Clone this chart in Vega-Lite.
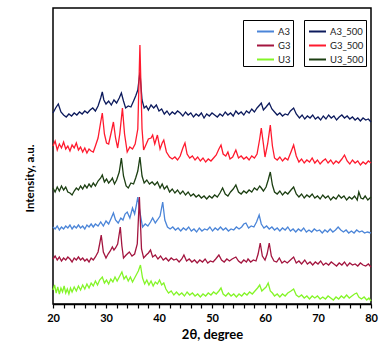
{
"$schema": "https://vega.github.io/schema/vega-lite/v6.json",
"width": 318, "height": 296,
"autosize": {"type": "none"},
"padding": {"left": 53, "top": 8, "right": 16, "bottom": 46},
"background": "white",
"config": {"view": {"stroke": "black", "strokeWidth": 1.5}, "font": "Lato"},
"data": {"values": [
{"s":"A3_500","x":20,"y":191},{"s":"A3_500","x":20.5,"y":196},{"s":"A3_500","x":21,"y":200},{"s":"A3_500","x":21.5,"y":192},{"s":"A3_500","x":22,"y":189},{"s":"A3_500","x":22.5,"y":187},{"s":"A3_500","x":23,"y":190},{"s":"A3_500","x":23.5,"y":188},{"s":"A3_500","x":24,"y":191},{"s":"A3_500","x":24.5,"y":189},{"s":"A3_500","x":25,"y":192},{"s":"A3_500","x":25.5,"y":190},{"s":"A3_500","x":26,"y":193},{"s":"A3_500","x":26.5,"y":191},{"s":"A3_500","x":27,"y":194},{"s":"A3_500","x":27.5,"y":196},{"s":"A3_500","x":28,"y":193},{"s":"A3_500","x":28.5,"y":198},{"s":"A3_500","x":29,"y":206},{"s":"A3_500","x":29.3,"y":212},{"s":"A3_500","x":29.6,"y":204},{"s":"A3_500","x":30,"y":200},{"s":"A3_500","x":30.5,"y":203},{"s":"A3_500","x":31,"y":199},{"s":"A3_500","x":31.5,"y":204},{"s":"A3_500","x":32,"y":201},{"s":"A3_500","x":32.5,"y":206},{"s":"A3_500","x":32.9,"y":211},{"s":"A3_500","x":33.3,"y":203},{"s":"A3_500","x":33.7,"y":196},{"s":"A3_500","x":34.2,"y":198},{"s":"A3_500","x":34.7,"y":197},{"s":"A3_500","x":35.2,"y":203},{"s":"A3_500","x":35.6,"y":208},{"s":"A3_500","x":36,"y":214},{"s":"A3_500","x":36.4,"y":232},{"s":"A3_500","x":36.8,"y":204},{"s":"A3_500","x":37.2,"y":196},{"s":"A3_500","x":37.6,"y":198},{"s":"A3_500","x":38,"y":194},{"s":"A3_500","x":38.5,"y":199},{"s":"A3_500","x":39,"y":196},{"s":"A3_500","x":39.5,"y":199},{"s":"A3_500","x":40,"y":193},{"s":"A3_500","x":40.5,"y":195},{"s":"A3_500","x":41,"y":190},{"s":"A3_500","x":41.5,"y":193},{"s":"A3_500","x":42,"y":189},{"s":"A3_500","x":42.5,"y":192},{"s":"A3_500","x":43,"y":190},{"s":"A3_500","x":43.5,"y":193},{"s":"A3_500","x":44,"y":191},{"s":"A3_500","x":44.5,"y":188},{"s":"A3_500","x":45,"y":192},{"s":"A3_500","x":45.5,"y":189},{"s":"A3_500","x":46,"y":191},{"s":"A3_500","x":46.5,"y":187},{"s":"A3_500","x":47,"y":190},{"s":"A3_500","x":47.5,"y":188},{"s":"A3_500","x":48,"y":191},{"s":"A3_500","x":48.5,"y":186},{"s":"A3_500","x":49,"y":190},{"s":"A3_500","x":49.5,"y":188},{"s":"A3_500","x":50,"y":191},{"s":"A3_500","x":50.5,"y":189},{"s":"A3_500","x":51,"y":187},{"s":"A3_500","x":51.5,"y":190},{"s":"A3_500","x":52,"y":188},{"s":"A3_500","x":52.5,"y":192},{"s":"A3_500","x":53,"y":189},{"s":"A3_500","x":53.5,"y":191},{"s":"A3_500","x":54,"y":188},{"s":"A3_500","x":54.5,"y":193},{"s":"A3_500","x":55,"y":190},{"s":"A3_500","x":55.5,"y":192},{"s":"A3_500","x":56,"y":189},{"s":"A3_500","x":56.5,"y":193},{"s":"A3_500","x":57,"y":191},{"s":"A3_500","x":57.5,"y":195},{"s":"A3_500","x":58,"y":192},{"s":"A3_500","x":58.5,"y":196},{"s":"A3_500","x":59,"y":199},{"s":"A3_500","x":59.3,"y":201},{"s":"A3_500","x":59.7,"y":194},{"s":"A3_500","x":60.2,"y":197},{"s":"A3_500","x":60.8,"y":201},{"s":"A3_500","x":61.3,"y":195},{"s":"A3_500","x":61.8,"y":192},{"s":"A3_500","x":62.3,"y":189},{"s":"A3_500","x":62.8,"y":191},{"s":"A3_500","x":63.3,"y":188},{"s":"A3_500","x":63.8,"y":190},{"s":"A3_500","x":64.3,"y":189},{"s":"A3_500","x":64.8,"y":193},{"s":"A3_500","x":65.4,"y":196},{"s":"A3_500","x":65.9,"y":190},{"s":"A3_500","x":66.5,"y":186},{"s":"A3_500","x":67,"y":189},{"s":"A3_500","x":67.5,"y":185},{"s":"A3_500","x":68,"y":188},{"s":"A3_500","x":68.5,"y":186},{"s":"A3_500","x":69,"y":189},{"s":"A3_500","x":69.5,"y":185},{"s":"A3_500","x":70,"y":187},{"s":"A3_500","x":70.5,"y":184},{"s":"A3_500","x":71,"y":188},{"s":"A3_500","x":71.5,"y":185},{"s":"A3_500","x":72,"y":189},{"s":"A3_500","x":72.5,"y":186},{"s":"A3_500","x":73,"y":188},{"s":"A3_500","x":73.5,"y":184},{"s":"A3_500","x":74,"y":187},{"s":"A3_500","x":74.5,"y":189},{"s":"A3_500","x":75,"y":186},{"s":"A3_500","x":75.5,"y":188},{"s":"A3_500","x":76,"y":185},{"s":"A3_500","x":76.5,"y":187},{"s":"A3_500","x":77,"y":184},{"s":"A3_500","x":77.5,"y":186},{"s":"A3_500","x":78,"y":183},{"s":"A3_500","x":78.5,"y":186},{"s":"A3_500","x":79,"y":184},{"s":"A3_500","x":79.5,"y":185},{"s":"A3_500","x":80,"y":182},
{"s":"G3_500","x":20,"y":158},{"s":"G3_500","x":20.4,"y":163},{"s":"G3_500","x":20.8,"y":154},{"s":"G3_500","x":21.2,"y":160},{"s":"G3_500","x":21.6,"y":156},{"s":"G3_500","x":22,"y":162},{"s":"G3_500","x":22.4,"y":155},{"s":"G3_500","x":22.8,"y":158},{"s":"G3_500","x":23.2,"y":153},{"s":"G3_500","x":23.6,"y":159},{"s":"G3_500","x":24,"y":156},{"s":"G3_500","x":24.4,"y":161},{"s":"G3_500","x":24.8,"y":154},{"s":"G3_500","x":25.2,"y":157},{"s":"G3_500","x":25.6,"y":152},{"s":"G3_500","x":26,"y":156},{"s":"G3_500","x":26.4,"y":151},{"s":"G3_500","x":26.8,"y":155},{"s":"G3_500","x":27.2,"y":153},{"s":"G3_500","x":27.6,"y":152},{"s":"G3_500","x":28,"y":158},{"s":"G3_500","x":28.5,"y":166},{"s":"G3_500","x":29,"y":182},{"s":"G3_500","x":29.3,"y":191},{"s":"G3_500","x":29.7,"y":170},{"s":"G3_500","x":30.1,"y":161},{"s":"G3_500","x":30.5,"y":160},{"s":"G3_500","x":31,"y":172},{"s":"G3_500","x":31.4,"y":182},{"s":"G3_500","x":31.8,"y":166},{"s":"G3_500","x":32.2,"y":156},{"s":"G3_500","x":32.6,"y":170},{"s":"G3_500","x":33.1,"y":196},{"s":"G3_500","x":33.5,"y":170},{"s":"G3_500","x":34,"y":152},{"s":"G3_500","x":34.5,"y":157},{"s":"G3_500","x":35,"y":155},{"s":"G3_500","x":35.5,"y":160},{"s":"G3_500","x":36,"y":175},{"s":"G3_500","x":36.4,"y":259},{"s":"G3_500","x":36.8,"y":175},{"s":"G3_500","x":37.1,"y":154},{"s":"G3_500","x":37.6,"y":160},{"s":"G3_500","x":38,"y":165},{"s":"G3_500","x":38.5,"y":166},{"s":"G3_500","x":38.8,"y":169},{"s":"G3_500","x":39.2,"y":160},{"s":"G3_500","x":39.7,"y":169},{"s":"G3_500","x":40.2,"y":155},{"s":"G3_500","x":40.6,"y":161},{"s":"G3_500","x":40.9,"y":164},{"s":"G3_500","x":41.4,"y":152},{"s":"G3_500","x":42,"y":147},{"s":"G3_500","x":42.5,"y":145},{"s":"G3_500","x":43,"y":147},{"s":"G3_500","x":43.5,"y":144},{"s":"G3_500","x":44,"y":148},{"s":"G3_500","x":44.5,"y":156},{"s":"G3_500","x":44.9,"y":161},{"s":"G3_500","x":45.3,"y":150},{"s":"G3_500","x":45.8,"y":146},{"s":"G3_500","x":46.3,"y":148},{"s":"G3_500","x":46.8,"y":144},{"s":"G3_500","x":47.3,"y":147},{"s":"G3_500","x":47.8,"y":143},{"s":"G3_500","x":48.3,"y":146},{"s":"G3_500","x":48.8,"y":142},{"s":"G3_500","x":49.3,"y":145},{"s":"G3_500","x":49.8,"y":143},{"s":"G3_500","x":50.3,"y":146},{"s":"G3_500","x":50.8,"y":149},{"s":"G3_500","x":51.3,"y":155},{"s":"G3_500","x":51.7,"y":159},{"s":"G3_500","x":52.1,"y":150},{"s":"G3_500","x":52.6,"y":148},{"s":"G3_500","x":53,"y":152},{"s":"G3_500","x":53.4,"y":145},{"s":"G3_500","x":53.9,"y":147},{"s":"G3_500","x":54.5,"y":154},{"s":"G3_500","x":55,"y":146},{"s":"G3_500","x":55.5,"y":148},{"s":"G3_500","x":56,"y":145},{"s":"G3_500","x":56.5,"y":147},{"s":"G3_500","x":57,"y":144},{"s":"G3_500","x":57.5,"y":148},{"s":"G3_500","x":58,"y":146},{"s":"G3_500","x":58.5,"y":150},{"s":"G3_500","x":59,"y":165},{"s":"G3_500","x":59.3,"y":176},{"s":"G3_500","x":59.7,"y":160},{"s":"G3_500","x":60,"y":147},{"s":"G3_500","x":60.5,"y":160},{"s":"G3_500","x":61,"y":179},{"s":"G3_500","x":61.4,"y":158},{"s":"G3_500","x":61.8,"y":146},{"s":"G3_500","x":62.3,"y":144},{"s":"G3_500","x":62.8,"y":147},{"s":"G3_500","x":63.3,"y":143},{"s":"G3_500","x":63.8,"y":146},{"s":"G3_500","x":64.3,"y":144},{"s":"G3_500","x":64.9,"y":152},{"s":"G3_500","x":65.4,"y":159},{"s":"G3_500","x":65.9,"y":148},{"s":"G3_500","x":66.4,"y":142},{"s":"G3_500","x":66.9,"y":145},{"s":"G3_500","x":67.4,"y":141},{"s":"G3_500","x":67.9,"y":144},{"s":"G3_500","x":68.4,"y":142},{"s":"G3_500","x":68.9,"y":146},{"s":"G3_500","x":69.4,"y":141},{"s":"G3_500","x":69.9,"y":144},{"s":"G3_500","x":70.4,"y":140},{"s":"G3_500","x":70.9,"y":143},{"s":"G3_500","x":71.4,"y":145},{"s":"G3_500","x":71.9,"y":141},{"s":"G3_500","x":72.4,"y":144},{"s":"G3_500","x":72.9,"y":140},{"s":"G3_500","x":73.4,"y":143},{"s":"G3_500","x":73.9,"y":141},{"s":"G3_500","x":74.5,"y":145},{"s":"G3_500","x":75,"y":149},{"s":"G3_500","x":75.5,"y":143},{"s":"G3_500","x":76,"y":140},{"s":"G3_500","x":76.5,"y":144},{"s":"G3_500","x":77,"y":141},{"s":"G3_500","x":77.5,"y":143},{"s":"G3_500","x":78,"y":139},{"s":"G3_500","x":78.5,"y":142},{"s":"G3_500","x":79,"y":140},{"s":"G3_500","x":79.5,"y":143},{"s":"G3_500","x":80,"y":141},
{"s":"U3_500","x":20,"y":116},{"s":"U3_500","x":20.4,"y":112},{"s":"U3_500","x":20.8,"y":117},{"s":"U3_500","x":21.2,"y":113},{"s":"U3_500","x":21.6,"y":118},{"s":"U3_500","x":22,"y":114},{"s":"U3_500","x":22.4,"y":117},{"s":"U3_500","x":22.8,"y":112},{"s":"U3_500","x":23.2,"y":111},{"s":"U3_500","x":23.6,"y":109},{"s":"U3_500","x":24,"y":113},{"s":"U3_500","x":24.4,"y":116},{"s":"U3_500","x":24.8,"y":114},{"s":"U3_500","x":25.2,"y":118},{"s":"U3_500","x":25.6,"y":115},{"s":"U3_500","x":26,"y":119},{"s":"U3_500","x":26.4,"y":116},{"s":"U3_500","x":26.8,"y":120},{"s":"U3_500","x":27.2,"y":117},{"s":"U3_500","x":27.6,"y":121},{"s":"U3_500","x":28,"y":118},{"s":"U3_500","x":28.5,"y":123},{"s":"U3_500","x":29,"y":126},{"s":"U3_500","x":29.3,"y":129},{"s":"U3_500","x":29.7,"y":122},{"s":"U3_500","x":30.1,"y":125},{"s":"U3_500","x":30.5,"y":121},{"s":"U3_500","x":31,"y":124},{"s":"U3_500","x":31.2,"y":126},{"s":"U3_500","x":31.6,"y":120},{"s":"U3_500","x":32,"y":124},{"s":"U3_500","x":32.5,"y":132},{"s":"U3_500","x":32.9,"y":146},{"s":"U3_500","x":33.3,"y":128},{"s":"U3_500","x":33.8,"y":118},{"s":"U3_500","x":34.2,"y":116},{"s":"U3_500","x":34.7,"y":121},{"s":"U3_500","x":35.2,"y":120},{"s":"U3_500","x":35.6,"y":126},{"s":"U3_500","x":36,"y":133},{"s":"U3_500","x":36.4,"y":147},{"s":"U3_500","x":36.8,"y":128},{"s":"U3_500","x":37.2,"y":121},{"s":"U3_500","x":37.7,"y":124},{"s":"U3_500","x":38.2,"y":120},{"s":"U3_500","x":38.7,"y":122},{"s":"U3_500","x":39.2,"y":119},{"s":"U3_500","x":39.7,"y":122},{"s":"U3_500","x":40.2,"y":116},{"s":"U3_500","x":40.6,"y":120},{"s":"U3_500","x":41,"y":115},{"s":"U3_500","x":41.5,"y":118},{"s":"U3_500","x":42,"y":112},{"s":"U3_500","x":42.5,"y":115},{"s":"U3_500","x":43,"y":111},{"s":"U3_500","x":43.5,"y":114},{"s":"U3_500","x":44,"y":110},{"s":"U3_500","x":44.5,"y":113},{"s":"U3_500","x":45,"y":109},{"s":"U3_500","x":45.5,"y":112},{"s":"U3_500","x":46,"y":108},{"s":"U3_500","x":46.5,"y":110},{"s":"U3_500","x":47,"y":107},{"s":"U3_500","x":47.5,"y":109},{"s":"U3_500","x":48,"y":106},{"s":"U3_500","x":48.5,"y":108},{"s":"U3_500","x":49,"y":105},{"s":"U3_500","x":49.5,"y":108},{"s":"U3_500","x":50,"y":106},{"s":"U3_500","x":50.5,"y":109},{"s":"U3_500","x":51,"y":107},{"s":"U3_500","x":51.5,"y":111},{"s":"U3_500","x":52,"y":116},{"s":"U3_500","x":52.5,"y":110},{"s":"U3_500","x":53,"y":108},{"s":"U3_500","x":53.5,"y":112},{"s":"U3_500","x":54,"y":115},{"s":"U3_500","x":54.5,"y":119},{"s":"U3_500","x":55,"y":112},{"s":"U3_500","x":55.5,"y":110},{"s":"U3_500","x":56,"y":113},{"s":"U3_500","x":56.5,"y":111},{"s":"U3_500","x":57,"y":114},{"s":"U3_500","x":57.5,"y":112},{"s":"U3_500","x":58,"y":116},{"s":"U3_500","x":58.5,"y":114},{"s":"U3_500","x":59,"y":118},{"s":"U3_500","x":59.3,"y":116},{"s":"U3_500","x":59.7,"y":113},{"s":"U3_500","x":60.2,"y":117},{"s":"U3_500","x":60.6,"y":124},{"s":"U3_500","x":61,"y":132},{"s":"U3_500","x":61.4,"y":119},{"s":"U3_500","x":61.8,"y":112},{"s":"U3_500","x":62.3,"y":110},{"s":"U3_500","x":62.8,"y":113},{"s":"U3_500","x":63.3,"y":109},{"s":"U3_500","x":63.8,"y":112},{"s":"U3_500","x":64.3,"y":110},{"s":"U3_500","x":64.9,"y":114},{"s":"U3_500","x":65.4,"y":117},{"s":"U3_500","x":65.9,"y":110},{"s":"U3_500","x":66.4,"y":107},{"s":"U3_500","x":66.9,"y":110},{"s":"U3_500","x":67.4,"y":106},{"s":"U3_500","x":67.9,"y":109},{"s":"U3_500","x":68.4,"y":107},{"s":"U3_500","x":68.9,"y":110},{"s":"U3_500","x":69.4,"y":106},{"s":"U3_500","x":69.9,"y":108},{"s":"U3_500","x":70.4,"y":105},{"s":"U3_500","x":70.9,"y":109},{"s":"U3_500","x":71.4,"y":106},{"s":"U3_500","x":71.9,"y":108},{"s":"U3_500","x":72.4,"y":104},{"s":"U3_500","x":72.9,"y":107},{"s":"U3_500","x":73.4,"y":105},{"s":"U3_500","x":73.9,"y":109},{"s":"U3_500","x":74.4,"y":106},{"s":"U3_500","x":74.9,"y":108},{"s":"U3_500","x":75.4,"y":104},{"s":"U3_500","x":75.9,"y":107},{"s":"U3_500","x":76.4,"y":105},{"s":"U3_500","x":76.9,"y":108},{"s":"U3_500","x":77.4,"y":104},{"s":"U3_500","x":77.7,"y":112},{"s":"U3_500","x":78.1,"y":106},{"s":"U3_500","x":78.5,"y":105},{"s":"U3_500","x":78.9,"y":108},{"s":"U3_500","x":79.4,"y":104},{"s":"U3_500","x":80,"y":107},
{"s":"A3","x":20,"y":77},{"s":"A3","x":20.4,"y":75},{"s":"A3","x":20.8,"y":78},{"s":"A3","x":21.2,"y":74},{"s":"A3","x":21.6,"y":77},{"s":"A3","x":22,"y":75},{"s":"A3","x":22.4,"y":78},{"s":"A3","x":22.8,"y":76},{"s":"A3","x":23.2,"y":79},{"s":"A3","x":23.6,"y":75},{"s":"A3","x":24,"y":78},{"s":"A3","x":24.4,"y":76},{"s":"A3","x":24.8,"y":79},{"s":"A3","x":25.2,"y":76},{"s":"A3","x":25.6,"y":78},{"s":"A3","x":26,"y":75},{"s":"A3","x":26.4,"y":79},{"s":"A3","x":26.8,"y":77},{"s":"A3","x":27.2,"y":80},{"s":"A3","x":27.6,"y":77},{"s":"A3","x":28,"y":80},{"s":"A3","x":28.5,"y":78},{"s":"A3","x":29,"y":82},{"s":"A3","x":29.5,"y":78},{"s":"A3","x":30,"y":83},{"s":"A3","x":30.5,"y":80},{"s":"A3","x":31,"y":86},{"s":"A3","x":31.4,"y":91},{"s":"A3","x":31.8,"y":84},{"s":"A3","x":32.3,"y":81},{"s":"A3","x":32.8,"y":86},{"s":"A3","x":33.2,"y":84},{"s":"A3","x":33.6,"y":90},{"s":"A3","x":34,"y":92},{"s":"A3","x":34.5,"y":86},{"s":"A3","x":35,"y":96},{"s":"A3","x":35.4,"y":90},{"s":"A3","x":35.7,"y":98},{"s":"A3","x":36,"y":107},{"s":"A3","x":36.4,"y":92},{"s":"A3","x":36.9,"y":77},{"s":"A3","x":37.4,"y":80},{"s":"A3","x":37.9,"y":78},{"s":"A3","x":38.4,"y":82},{"s":"A3","x":38.8,"y":86},{"s":"A3","x":39.3,"y":81},{"s":"A3","x":39.7,"y":84},{"s":"A3","x":40.2,"y":88},{"s":"A3","x":40.7,"y":102},{"s":"A3","x":41.1,"y":84},{"s":"A3","x":41.6,"y":77},{"s":"A3","x":42.1,"y":75},{"s":"A3","x":42.6,"y":77},{"s":"A3","x":43.1,"y":74},{"s":"A3","x":43.6,"y":76},{"s":"A3","x":44.1,"y":73},{"s":"A3","x":44.6,"y":76},{"s":"A3","x":45.1,"y":74},{"s":"A3","x":45.6,"y":77},{"s":"A3","x":46.1,"y":73},{"s":"A3","x":46.6,"y":75},{"s":"A3","x":47.1,"y":72},{"s":"A3","x":47.6,"y":76},{"s":"A3","x":48.1,"y":73},{"s":"A3","x":48.6,"y":75},{"s":"A3","x":49.1,"y":74},{"s":"A3","x":49.6,"y":77},{"s":"A3","x":50.1,"y":73},{"s":"A3","x":50.6,"y":76},{"s":"A3","x":51.1,"y":74},{"s":"A3","x":51.6,"y":77},{"s":"A3","x":52.1,"y":74},{"s":"A3","x":52.6,"y":76},{"s":"A3","x":53.1,"y":73},{"s":"A3","x":53.6,"y":75},{"s":"A3","x":54.1,"y":74},{"s":"A3","x":54.6,"y":77},{"s":"A3","x":55.1,"y":75},{"s":"A3","x":55.6,"y":77},{"s":"A3","x":56,"y":80},{"s":"A3","x":56.4,"y":81},{"s":"A3","x":56.9,"y":76},{"s":"A3","x":57.4,"y":78},{"s":"A3","x":57.9,"y":77},{"s":"A3","x":58.4,"y":82},{"s":"A3","x":58.9,"y":89},{"s":"A3","x":59.3,"y":80},{"s":"A3","x":59.8,"y":76},{"s":"A3","x":60.3,"y":78},{"s":"A3","x":60.8,"y":75},{"s":"A3","x":61.3,"y":77},{"s":"A3","x":61.8,"y":74},{"s":"A3","x":62.3,"y":76},{"s":"A3","x":62.8,"y":73},{"s":"A3","x":63.3,"y":76},{"s":"A3","x":63.8,"y":74},{"s":"A3","x":64.3,"y":77},{"s":"A3","x":64.8,"y":73},{"s":"A3","x":65.3,"y":75},{"s":"A3","x":65.8,"y":72},{"s":"A3","x":66.3,"y":75},{"s":"A3","x":66.8,"y":73},{"s":"A3","x":67.3,"y":76},{"s":"A3","x":67.8,"y":72},{"s":"A3","x":68.3,"y":74},{"s":"A3","x":68.8,"y":72},{"s":"A3","x":69.3,"y":75},{"s":"A3","x":69.8,"y":73},{"s":"A3","x":70.3,"y":74},{"s":"A3","x":70.8,"y":71},{"s":"A3","x":71.3,"y":74},{"s":"A3","x":71.8,"y":72},{"s":"A3","x":72.3,"y":75},{"s":"A3","x":72.8,"y":72},{"s":"A3","x":73.3,"y":74},{"s":"A3","x":73.8,"y":77},{"s":"A3","x":74.3,"y":74},{"s":"A3","x":74.8,"y":72},{"s":"A3","x":75.3,"y":74},{"s":"A3","x":75.8,"y":71},{"s":"A3","x":76.3,"y":73},{"s":"A3","x":76.8,"y":71},{"s":"A3","x":77.3,"y":74},{"s":"A3","x":77.8,"y":72},{"s":"A3","x":78.3,"y":73},{"s":"A3","x":78.8,"y":71},{"s":"A3","x":79.3,"y":72},{"s":"A3","x":80,"y":71},
{"s":"G3","x":20,"y":45},{"s":"G3","x":20.4,"y":48},{"s":"G3","x":20.8,"y":44},{"s":"G3","x":21.2,"y":47},{"s":"G3","x":21.6,"y":43},{"s":"G3","x":22,"y":46},{"s":"G3","x":22.4,"y":44},{"s":"G3","x":22.8,"y":47},{"s":"G3","x":23.2,"y":45},{"s":"G3","x":23.6,"y":42},{"s":"G3","x":24,"y":46},{"s":"G3","x":24.4,"y":44},{"s":"G3","x":24.8,"y":47},{"s":"G3","x":25.2,"y":44},{"s":"G3","x":25.6,"y":46},{"s":"G3","x":26,"y":43},{"s":"G3","x":26.4,"y":45},{"s":"G3","x":26.8,"y":42},{"s":"G3","x":27.2,"y":46},{"s":"G3","x":27.6,"y":44},{"s":"G3","x":28,"y":47},{"s":"G3","x":28.5,"y":52},{"s":"G3","x":28.8,"y":60},{"s":"G3","x":29.1,"y":69},{"s":"G3","x":29.5,"y":52},{"s":"G3","x":30,"y":46},{"s":"G3","x":30.4,"y":50},{"s":"G3","x":30.8,"y":53},{"s":"G3","x":31.2,"y":57},{"s":"G3","x":31.5,"y":54},{"s":"G3","x":31.8,"y":56},{"s":"G3","x":32.2,"y":60},{"s":"G3","x":32.7,"y":77},{"s":"G3","x":33,"y":58},{"s":"G3","x":33.3,"y":46},{"s":"G3","x":33.8,"y":49},{"s":"G3","x":34.4,"y":52},{"s":"G3","x":34.9,"y":48},{"s":"G3","x":35.4,"y":50},{"s":"G3","x":35.9,"y":60},{"s":"G3","x":36.3,"y":107},{"s":"G3","x":36.7,"y":55},{"s":"G3","x":37.1,"y":46},{"s":"G3","x":37.6,"y":49},{"s":"G3","x":38,"y":51},{"s":"G3","x":38.4,"y":54},{"s":"G3","x":38.8,"y":47},{"s":"G3","x":39.3,"y":49},{"s":"G3","x":39.8,"y":45},{"s":"G3","x":40.3,"y":48},{"s":"G3","x":40.8,"y":44},{"s":"G3","x":41.3,"y":46},{"s":"G3","x":41.8,"y":43},{"s":"G3","x":42.3,"y":46},{"s":"G3","x":42.8,"y":44},{"s":"G3","x":43.3,"y":45},{"s":"G3","x":43.8,"y":42},{"s":"G3","x":44.3,"y":45},{"s":"G3","x":44.7,"y":49},{"s":"G3","x":45.2,"y":43},{"s":"G3","x":45.7,"y":45},{"s":"G3","x":46.2,"y":42},{"s":"G3","x":46.7,"y":44},{"s":"G3","x":47.2,"y":41},{"s":"G3","x":47.7,"y":44},{"s":"G3","x":48.2,"y":42},{"s":"G3","x":48.7,"y":45},{"s":"G3","x":49.2,"y":41},{"s":"G3","x":49.7,"y":43},{"s":"G3","x":50.2,"y":42},{"s":"G3","x":50.7,"y":45},{"s":"G3","x":51.3,"y":49},{"s":"G3","x":51.8,"y":44},{"s":"G3","x":52.3,"y":42},{"s":"G3","x":52.8,"y":45},{"s":"G3","x":53.3,"y":43},{"s":"G3","x":53.8,"y":45},{"s":"G3","x":54.5,"y":47},{"s":"G3","x":55,"y":43},{"s":"G3","x":55.5,"y":41},{"s":"G3","x":56,"y":44},{"s":"G3","x":56.5,"y":42},{"s":"G3","x":56.8,"y":45},{"s":"G3","x":57.3,"y":42},{"s":"G3","x":57.8,"y":44},{"s":"G3","x":58.3,"y":43},{"s":"G3","x":58.7,"y":50},{"s":"G3","x":59.1,"y":61},{"s":"G3","x":59.5,"y":48},{"s":"G3","x":60,"y":44},{"s":"G3","x":60.4,"y":50},{"s":"G3","x":60.8,"y":61},{"s":"G3","x":61.2,"y":48},{"s":"G3","x":61.7,"y":43},{"s":"G3","x":62.2,"y":42},{"s":"G3","x":62.7,"y":46},{"s":"G3","x":63.2,"y":41},{"s":"G3","x":63.7,"y":43},{"s":"G3","x":64.2,"y":41},{"s":"G3","x":64.8,"y":44},{"s":"G3","x":65.4,"y":47},{"s":"G3","x":65.9,"y":41},{"s":"G3","x":66.4,"y":43},{"s":"G3","x":66.9,"y":40},{"s":"G3","x":67.5,"y":44},{"s":"G3","x":68,"y":40},{"s":"G3","x":68.5,"y":42},{"s":"G3","x":69,"y":39},{"s":"G3","x":69.5,"y":42},{"s":"G3","x":70,"y":40},{"s":"G3","x":70.5,"y":43},{"s":"G3","x":71,"y":39},{"s":"G3","x":71.5,"y":41},{"s":"G3","x":72,"y":39},{"s":"G3","x":72.5,"y":42},{"s":"G3","x":73,"y":40},{"s":"G3","x":73.5,"y":38},{"s":"G3","x":74,"y":41},{"s":"G3","x":74.5,"y":39},{"s":"G3","x":75,"y":42},{"s":"G3","x":75.5,"y":38},{"s":"G3","x":76,"y":41},{"s":"G3","x":76.5,"y":39},{"s":"G3","x":77,"y":40},{"s":"G3","x":77.5,"y":38},{"s":"G3","x":78,"y":41},{"s":"G3","x":78.5,"y":39},{"s":"G3","x":79,"y":38},{"s":"G3","x":79.5,"y":40},{"s":"G3","x":80,"y":37},
{"s":"U3","x":20,"y":14},{"s":"U3","x":20.3,"y":19},{"s":"U3","x":20.6,"y":11},{"s":"U3","x":20.9,"y":17},{"s":"U3","x":21.2,"y":10},{"s":"U3","x":21.5,"y":16},{"s":"U3","x":21.8,"y":12},{"s":"U3","x":22.1,"y":18},{"s":"U3","x":22.4,"y":11},{"s":"U3","x":22.7,"y":15},{"s":"U3","x":23,"y":10},{"s":"U3","x":23.3,"y":16},{"s":"U3","x":23.6,"y":12},{"s":"U3","x":24,"y":17},{"s":"U3","x":24.4,"y":13},{"s":"U3","x":24.8,"y":18},{"s":"U3","x":25.2,"y":14},{"s":"U3","x":25.6,"y":19},{"s":"U3","x":26,"y":15},{"s":"U3","x":26.4,"y":20},{"s":"U3","x":26.8,"y":16},{"s":"U3","x":27.2,"y":21},{"s":"U3","x":27.6,"y":18},{"s":"U3","x":28,"y":23},{"s":"U3","x":28.4,"y":19},{"s":"U3","x":28.8,"y":24},{"s":"U3","x":29.3,"y":27},{"s":"U3","x":29.7,"y":21},{"s":"U3","x":30.1,"y":24},{"s":"U3","x":30.5,"y":20},{"s":"U3","x":30.9,"y":25},{"s":"U3","x":31.3,"y":22},{"s":"U3","x":31.7,"y":27},{"s":"U3","x":32.1,"y":23},{"s":"U3","x":32.6,"y":28},{"s":"U3","x":33,"y":32},{"s":"U3","x":33.4,"y":25},{"s":"U3","x":33.8,"y":28},{"s":"U3","x":34.2,"y":23},{"s":"U3","x":34.6,"y":27},{"s":"U3","x":35,"y":22},{"s":"U3","x":35.4,"y":26},{"s":"U3","x":35.8,"y":30},{"s":"U3","x":36.1,"y":33},{"s":"U3","x":36.5,"y":39},{"s":"U3","x":36.9,"y":26},{"s":"U3","x":37.3,"y":20},{"s":"U3","x":37.7,"y":24},{"s":"U3","x":38.1,"y":19},{"s":"U3","x":38.5,"y":23},{"s":"U3","x":38.9,"y":18},{"s":"U3","x":39.3,"y":22},{"s":"U3","x":39.7,"y":20},{"s":"U3","x":40.1,"y":24},{"s":"U3","x":40.5,"y":19},{"s":"U3","x":40.9,"y":21},{"s":"U3","x":41.3,"y":15},{"s":"U3","x":41.8,"y":11},{"s":"U3","x":42.3,"y":13},{"s":"U3","x":42.8,"y":9},{"s":"U3","x":43.3,"y":12},{"s":"U3","x":43.8,"y":9},{"s":"U3","x":44.3,"y":11},{"s":"U3","x":44.8,"y":8},{"s":"U3","x":45.3,"y":12},{"s":"U3","x":45.8,"y":9},{"s":"U3","x":46.3,"y":11},{"s":"U3","x":46.8,"y":8},{"s":"U3","x":47.3,"y":10},{"s":"U3","x":47.8,"y":7},{"s":"U3","x":48.3,"y":10},{"s":"U3","x":48.8,"y":8},{"s":"U3","x":49.3,"y":11},{"s":"U3","x":49.8,"y":9},{"s":"U3","x":50.3,"y":12},{"s":"U3","x":50.8,"y":10},{"s":"U3","x":51.3,"y":13},{"s":"U3","x":51.7,"y":16},{"s":"U3","x":52.1,"y":10},{"s":"U3","x":52.6,"y":8},{"s":"U3","x":53.1,"y":11},{"s":"U3","x":53.6,"y":8},{"s":"U3","x":54.1,"y":10},{"s":"U3","x":54.6,"y":7},{"s":"U3","x":55.1,"y":10},{"s":"U3","x":55.6,"y":8},{"s":"U3","x":56.1,"y":11},{"s":"U3","x":56.6,"y":9},{"s":"U3","x":57.1,"y":12},{"s":"U3","x":57.6,"y":10},{"s":"U3","x":58.1,"y":13},{"s":"U3","x":58.6,"y":16},{"s":"U3","x":59,"y":19},{"s":"U3","x":59.4,"y":13},{"s":"U3","x":59.8,"y":15},{"s":"U3","x":60.2,"y":17},{"s":"U3","x":60.6,"y":21},{"s":"U3","x":61,"y":13},{"s":"U3","x":61.4,"y":11},{"s":"U3","x":61.8,"y":8},{"s":"U3","x":62.3,"y":10},{"s":"U3","x":62.8,"y":7},{"s":"U3","x":63.3,"y":10},{"s":"U3","x":63.8,"y":8},{"s":"U3","x":64.3,"y":11},{"s":"U3","x":64.9,"y":13},{"s":"U3","x":65.4,"y":15},{"s":"U3","x":65.9,"y":9},{"s":"U3","x":66.4,"y":7},{"s":"U3","x":66.9,"y":9},{"s":"U3","x":67.4,"y":6},{"s":"U3","x":67.9,"y":8},{"s":"U3","x":68.4,"y":5},{"s":"U3","x":68.9,"y":8},{"s":"U3","x":69.4,"y":6},{"s":"U3","x":69.9,"y":8},{"s":"U3","x":70.4,"y":5},{"s":"U3","x":70.9,"y":7},{"s":"U3","x":71.4,"y":5},{"s":"U3","x":71.9,"y":8},{"s":"U3","x":72.4,"y":6},{"s":"U3","x":72.9,"y":4},{"s":"U3","x":73.4,"y":7},{"s":"U3","x":73.9,"y":5},{"s":"U3","x":74.4,"y":8},{"s":"U3","x":74.9,"y":6},{"s":"U3","x":75.4,"y":9},{"s":"U3","x":75.9,"y":6},{"s":"U3","x":76.4,"y":8},{"s":"U3","x":76.9,"y":10},{"s":"U3","x":77.3,"y":11},{"s":"U3","x":77.7,"y":7},{"s":"U3","x":78.2,"y":5},{"s":"U3","x":78.7,"y":7},{"s":"U3","x":79.2,"y":4},{"s":"U3","x":79.6,"y":6},{"s":"U3","x":80,"y":3}
]},
"encoding": {
  "x": {"field": "x", "type": "quantitative", "scale": {"domain": [20, 80], "nice": false, "zero": false},
    "axis": {"title": "2θ, degree", "values": [20,22,24,26,28,30,32,34,36,38,40,42,44,46,48,50,52,54,56,58,60,62,64,66,68,70,72,74,76,78,80],
      "labelExpr": "datum.value % 10 === 0 ? datum.label : ''", "labelFlush": false, "grid": false, "domainColor": "black", "domainWidth": 1.5,
      "tickColor": "black", "tickSize": 4, "tickWidth": 1.2, "labelFont": "Lato", "labelFontWeight": "bold", "labelFontSize": 11, "labelColor": "black",
      "labelPadding": 4, "titleFont": "Lato", "titleFontWeight": "bold", "titleFontSize": 13, "titleColor": "black", "titlePadding": 5, "labelOverlap": false}},
  "y": {"field": "y", "type": "quantitative", "scale": {"domain": [0, 296], "nice": false},
    "axis": {"title": "Intensity, a.u.", "labels": false, "ticks": false, "domain": false, "grid": false,
      "titleFont": "Lato", "titleFontWeight": "bold", "titleFontSize": 11.5, "titleColor": "black",
      "titleAngle": 270, "titleAlign": "center", "titleBaseline": "middle", "titleX": -23, "titleY": 170}}
},
"layer": [
  {"transform": [{"filter": "indexof(['A3','G3','U3'], datum.s) >= 0"}],
   "mark": {"type": "line", "strokeWidth": 1.3, "interpolate": "linear"},
   "encoding": {"color": {"field": "s", "type": "nominal",
      "scale": {"domain": ["A3","G3","U3"], "range": ["#4b85d8","#a3153f","#84f528"]},
      "legend": {"title": null, "orient": "none", "legendX": 190, "legendY": 12, "symbolType": "stroke", "symbolSize": 289, "symbolStrokeWidth": 2,
        "strokeColor": "black", "padding": 2, "symbolOffset": 11, "labelOffset": 3, "rowPadding": 0, "labelFont": "Lato", "labelFontSize": 9.5, "labelColor": "#222",
        "labelExpr": "datum.label + '      '"}}}},
  {"transform": [{"filter": "indexof(['A3_500','G3_500','U3_500'], datum.s) >= 0"}],
   "mark": {"type": "line", "strokeWidth": 1.3, "interpolate": "linear"},
   "encoding": {"color": {"field": "s", "type": "nominal",
      "scale": {"domain": ["A3_500","G3_500","U3_500"], "range": ["#0c1a5c","#ff1a2e","#1c3f12"]},
      "legend": {"title": null, "orient": "none", "legendX": 251, "legendY": 12, "symbolType": "stroke", "symbolSize": 289, "symbolStrokeWidth": 2,
        "strokeColor": "black", "padding": 2, "symbolOffset": 2, "labelOffset": 3, "rowPadding": 0, "labelFont": "Lato", "labelFontSize": 9.5, "labelColor": "#222"}}}}
],
"resolve": {"scale": {"color": "independent"}}
}
